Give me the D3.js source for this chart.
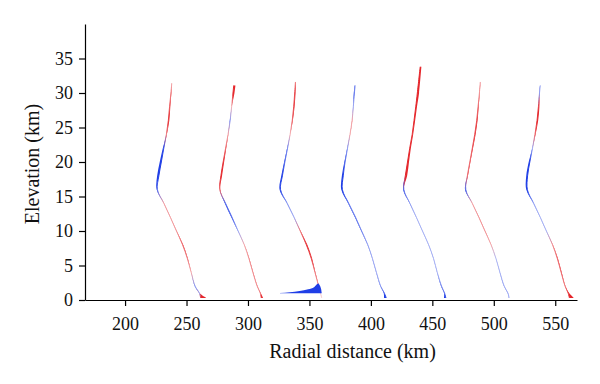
<!DOCTYPE html>
<html>
<head>
<meta charset="utf-8">
<script src="https://cdn.jsdelivr.net/npm/d3@7"></script>
<style>
  body { margin: 0; background: #fff; }
  .axis text { font-family: "Liberation Serif", "DejaVu Serif", serif; font-size: 18px; fill: #111; }
  .axis path, .axis line { stroke: #000; stroke-width: 1.2; }
  .title { font-family: "Liberation Serif", "DejaVu Serif", serif; font-size: 20px; fill: #111; }
</style>
</head>
<body>
<div id="chart-area"></div>
<script>

// Data: elevation knots (km), last knot is each trace's top
let elevKnots = [0.3, 1, 2, 4, 6, 8, 10, 12, 14, 16, 18, 20, 22, 24, 26, 28, 30];
let topElev = [31.4, 31.1, 31.6, 31.1, 33.8, 31.6, 31.1];

// baseline radial position (km) of each trace at each knot
let baseX = [
  [261.5, 260.5, 257, 253.8, 250.7, 246.8, 241.8, 236.8, 231.6, 226.3, 227.5, 229.5, 231.5, 233.6, 235.2, 236.2, 237.3, 238],
  [310.8, 310, 307.5, 304, 300.8, 297, 292, 287, 281.8, 277, 278, 279.8, 281.8, 283.8, 285.5, 286.7, 287.8, 288.4],
  [360, 359, 357.5, 354.5, 351.5, 347.5, 342.5, 337.5, 332, 326.5, 328, 330, 332.2, 334.3, 336, 337.2, 338, 338.6],
  [412.5, 411, 408, 404.5, 401.3, 397.5, 392.5, 387.5, 382, 376.8, 377.5, 379, 381, 383, 384.7, 385.7, 386.6, 387.2],
  [461, 460, 457.5, 454, 451, 447, 442, 437, 431.8, 426.8, 428, 429.8, 431.6, 433.6, 435.1, 436.5, 437.8, 440.1],
  [512.5, 511.5, 508.5, 505, 501.8, 497.8, 492.8, 487.8, 482.5, 477.2, 478.5, 480.5, 482.5, 484.5, 486.1, 487.2, 488.3, 489],
  [561.5, 560.5, 558, 554.8, 551.7, 547.8, 542.8, 537.8, 532.5, 527.3, 527.5, 529.3, 531.5, 533.5, 535.2, 536.3, 537.2, 537.8]
];

// signed deflection (km): positive = red, negative = blue
let amp = [
  [4.5, -0.2, -0.3, 0.15, 0.4, 0.5, 0.25, 0.2, 0.2, -0.6, -1.4, -1.3, -0.8, 0.4, 0.8, 0.6, 0.4, 0.2],
  [1.5, 0.4, 0.3, 0.3, 0.3, 0.15, -0.2, -0.6, -0.6, 0.5, 0.9, 0.8, 0.5, 0.2, -0.3, 0.1, 1.2, 1.4],
  [0, 0, 0.3, 0.4, 0.7, 0.8, 0.4, -0.2, -0.3, -0.8, -0.9, -0.6, -0.4, 0.1, 0.5, 0.7, 0.7, 0.4],
  [-1.8, -0.6, -0.3, -0.2, -0.2, -0.25, -0.4, -0.5, -0.5, -0.9, -1.1, -0.6, -0.3, 0.15, 0.2, -0.2, -0.5, -0.4],
  [-1.5, -0.5, -0.4, -0.15, -0.15, -0.15, -0.15, -0.15, -0.25, -0.6, 1.5, 1.2, 0.9, 0.8, 0.9, 1.0, 1.4, 1.0],
  [-0.2, -0.2, -0.2, -0.15, -0.1, 0.15, 0.25, 0.25, 0.2, -0.6, 0.5, 0.5, 0.6, 0.7, 0.7, 0.5, 0.3, 0.2],
  [3.5, 0.8, 0.4, 0.5, 0.5, 0.3, -0.15, -0.15, -0.25, -0.9, -1.1, -0.9, -0.2, 0.5, 0.9, 0.8, -0.3, -0.2]
];

// blue ground-level wedge at the foot of the third trace
let wedgeX = [326, 334, 342, 349, 354, 357, 359.5, 360];
let wedgeTop = [1.0, 1.12, 1.3, 1.55, 1.9, 2.4, 1.6, 1.0];
let wedgeBase = 0.97;

let xTicks = [200, 250, 300, 350, 400, 450, 500, 550];
let yTicks = [0, 5, 10, 15, 20, 25, 30, 35];

// SVG drawing area
let margin = {top: 24, right: 23, bottom: 84, left: 85};
let width = 600 - margin.left - margin.right,
    height = 384 - margin.top - margin.bottom;

let svg = d3.select("#chart-area").append("svg")
    .attr("width", 600)
    .attr("height", 384)
    .append("g")
    .attr("transform", "translate(" + margin.left + "," + margin.top + ")");

// Scales
let x = d3.scaleLinear().domain([167.4, 567.7]).range([0, width]);
let y = d3.scaleLinear().domain([0, 40]).range([height, 0]);

let red = "#e5262b", blue = "#1f3ee6";
function colorFor(a) {
  let t = Math.min(1, Math.abs(a) / 0.9);
  return a >= 0 ? d3.interpolateRgb("#f6c4c6", red)(t) : d3.interpolateRgb("#c3c9f5", blue)(t);
}

let defs = svg.append("defs");
let traceGroup = svg.append("g");

baseX.forEach(function(xs, i) {
  let pts = xs.map(function(bx, j) {
    return {z: j < elevKnots.length ? elevKnots[j] : topElev[i], x: bx, a: amp[i][j]};
  });

  let grad = defs.append("linearGradient")
    .attr("id", "grad" + i)
    .attr("gradientUnits", "userSpaceOnUse")
    .attr("x1", 0).attr("x2", 0)
    .attr("y1", y(0)).attr("y2", y(40));
  pts.forEach(function(p) {
    grad.append("stop").attr("offset", p.z / 40).attr("stop-color", colorFor(p.a));
  });

  let posArea = d3.area().curve(d3.curveCatmullRom)
    .y(d => y(d.z)).x0(d => x(d.x)).x1(d => x(d.x + Math.max(d.a, 0)));
  let negArea = d3.area().curve(d3.curveCatmullRom)
    .y(d => y(d.z)).x0(d => x(d.x)).x1(d => x(d.x + Math.min(d.a, 0)));
  let line = d3.line().curve(d3.curveCatmullRom)
    .x(d => x(d.x)).y(d => y(d.z));

  traceGroup.append("path").attr("d", posArea(pts)).attr("fill", red);
  traceGroup.append("path").attr("d", negArea(pts)).attr("fill", blue);
  traceGroup.append("path").attr("d", line(pts))
    .attr("fill", "none")
    .attr("stroke", "url(#grad" + i + ")")
    .attr("stroke-width", 1);
});

// ground wedge
let wedgeArea = d3.area().curve(d3.curveMonotoneX)
  .x(d => x(d[0])).y0(y(wedgeBase)).y1(d => y(d[1]));
traceGroup.append("path")
  .attr("d", wedgeArea(wedgeX.map((v, k) => [v, wedgeTop[k]])))
  .attr("fill", blue);

// Axes
let xAxis = d3.axisBottom(x).tickValues(xTicks).tickSize(6).tickSizeOuter(0).tickPadding(11);
let yAxis = d3.axisLeft(y).tickValues(yTicks).tickSize(6).tickSizeOuter(0).tickPadding(6);

svg.append("g")
  .attr("class", "axis x-axis")
  .attr("transform", "translate(0," + height + ")")
  .call(xAxis);
svg.append("g")
  .attr("class", "axis y-axis")
  .call(yAxis);

svg.selectAll(".axis .domain").attr("fill", "none");

// Axis titles
svg.append("text")
  .attr("class", "title")
  .attr("text-anchor", "middle")
  .attr("x", 352.5 - margin.left)
  .attr("y", 358 - margin.top)
  .text("Radial distance (km)");

svg.append("text")
  .attr("class", "title")
  .attr("text-anchor", "middle")
  .attr("transform", "rotate(-90)")
  .attr("x", -(164 - margin.top))
  .attr("y", 39 - margin.left)
  .text("Elevation (km)");

</script>
</body>
</html>
